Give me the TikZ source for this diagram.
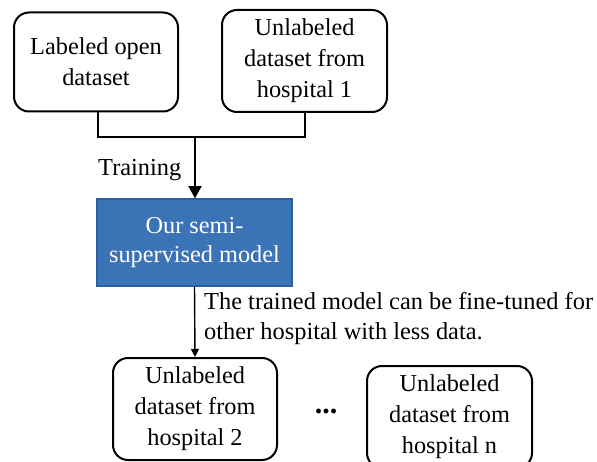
\documentclass[tikz,border=0pt]{standalone}
\usepackage{fontspec}
\setmainfont{Liberation Serif}
\usetikzlibrary{arrows.meta}
\definecolor{modelblue}{RGB}{58,115,182}
\definecolor{modelborder}{RGB}{45,95,160}
\tikzset{
  databox/.style={draw=black, line width=2pt, rounded corners=15pt, align=center,
    font=\fontsize{24.3}{31}\selectfont, inner sep=0pt},
  modelbox/.style={draw=modelborder, fill=modelblue, line width=1.5pt, align=center,
    text=white, font=\fontsize{24.3}{29}\selectfont, inner sep=0pt,
    minimum width=195pt, minimum height=87pt},
  conn/.style={line width=1.4pt},
  lbl/.style={font=\fontsize{24.4}{30}\selectfont, inner sep=0pt},
}
\begin{document}
\begin{tikzpicture}[x=1pt,y=-1pt]
\useasboundingbox (0,0) rectangle (597,462);
\clip (0,0) rectangle (597,462);
\node[databox, minimum width=164pt, minimum height=99pt] (b1) at (96,62) {Labeled open\\dataset};
\node[databox, minimum width=165pt, minimum height=102pt] (b2) at (304.5,61) {Unlabeled\\dataset from\\hospital 1};
\node[modelbox] (m) at (194.5,242.5) {Our semi-\\supervised model};
\node[databox, minimum width=164pt, minimum height=102pt] (b3) at (195,409) {Unlabeled\\dataset from\\hospital 2};
\node[databox, minimum width=165pt, minimum height=102pt] (b4) at (449.5,417) {Unlabeled\\dataset from\\hospital n};
\node[font=\fontsize{30}{30}\selectfont\bfseries, inner sep=0pt, anchor=base] (dots) at (326,413) {...};
\coordinate (j) at (195,137);
\draw[conn] (b1.south -| 98,0) |- (j) -| (b2.south -| 305,0);
\draw[conn, -{Triangle[width=13pt,length=12pt]}] (j) -- (m.north -| j);
\node[lbl, anchor=base west] (tr) at (98,176) {Training};
\draw[conn, -{Triangle[width=8pt,length=8pt]}] (m.south) -- (b3.north);
\node[lbl, anchor=base west] (desc) at (204,309) {The trained model can be fine-tuned for};
\node[lbl, anchor=base west] (desc2) at (204,339) {other hospital with less data.};
\end{tikzpicture}
\end{document}
